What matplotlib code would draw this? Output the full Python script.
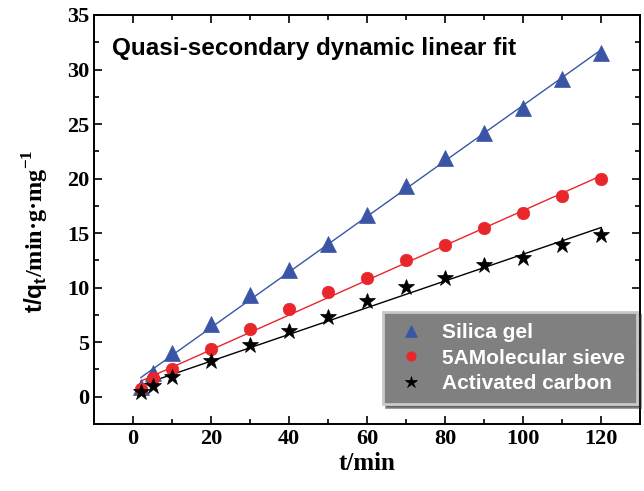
import numpy as np
import matplotlib
matplotlib.use("Agg")
import matplotlib.pyplot as plt
from matplotlib.ticker import MultipleLocator

plt.rcParams['mathtext.fontset'] = 'custom'
plt.rcParams['mathtext.sf'] = 'Liberation Sans:bold'
plt.rcParams['mathtext.rm'] = 'Liberation Serif:bold'
plt.rcParams['mathtext.bf'] = 'Liberation Serif:bold'

# Sampling times (min)
t = [2, 5, 10, 20, 30, 40, 50, 60, 70, 80, 90, 100, 110, 120]

# t/qt values for each adsorbent
silica_gel = [0.9, 2.2, 4.0, 6.7, 9.3, 11.6, 14.0, 16.7, 19.3, 21.9, 24.2, 26.5, 29.1, 31.5]
molecular_sieve = [0.7, 1.7, 2.5, 4.4, 6.2, 8.0, 9.6, 10.9, 12.5, 13.9, 15.5, 16.8, 18.4, 20.0]
activated_carbon = [0.4, 1.0, 1.8, 3.3, 4.7, 6.0, 7.3, 8.8, 10.1, 10.9, 12.1, 12.7, 13.9, 14.8]

labels = ['Silica gel', '5AMolecular sieve', 'Activated carbon']
colors = ['#3a55a6', '#e8262c', '#000000']
markers = ['^', 'o', '*']
msizes = [11, 9, 12]

fig = plt.figure(figsize=(6.44, 4.91), dpi=100)
ax = fig.add_axes([0.146, 0.1365, 0.848, 0.833])

tt = np.array(t, dtype=float)
for ys, lab, c, m, ms in zip([silica_gel, molecular_sieve, activated_carbon],
                             labels, colors, markers, msizes):
    ys = np.array(ys)
    k, b = np.polyfit(tt, ys, 1)
    ax.plot(tt, k * tt + b, color=c, lw=1.0, zorder=2)
    ax.plot(tt, ys, linestyle='none', marker=m, ms=ms, color=c,
            markeredgewidth=0.5, markeredgecolor=c, label=lab, zorder=3)

ax.set_xlim(-10, 130)
ax.set_ylim(-2.5, 35)
ax.xaxis.set_major_locator(MultipleLocator(20))
ax.xaxis.set_minor_locator(MultipleLocator(10))
ax.yaxis.set_major_locator(MultipleLocator(5))
ax.yaxis.set_minor_locator(MultipleLocator(2.5))
ax.tick_params(which='both', direction='in', top=True, right=True, width=1.2)
ax.tick_params(which='major', length=6)
ax.tick_params(which='minor', length=3.5)
ax.tick_params(labeltop=False, labelright=False)
for sp in ax.spines.values():
    sp.set_linewidth(1.4)

for lbl in ax.get_xticklabels() + ax.get_yticklabels():
    lbl.set_fontfamily('Liberation Serif')
    lbl.set_fontweight('bold')
    lbl.set_fontsize(16)

ax.set_xlabel('t/min', fontfamily='Liberation Serif', fontweight='bold', fontsize=18, labelpad=2)
ax.set_ylabel(r'$\mathsf{t/q_t}$/min·g·mg$^{\mathrm{-1}}$', fontfamily='Liberation Serif',
              fontweight='bold', fontsize=17.5)
ax.yaxis.set_label_coords(-0.078, 0.47)

ax.text(0.033, 0.918, 'Quasi-secondary dynamic linear fit', transform=ax.transAxes,
        fontfamily='Liberation Sans', fontweight='bold', fontsize=17.5, va='center')

leg = ax.legend(loc='upper left', bbox_to_anchor=(383 / 644, 1 - 312 / 491),
                bbox_transform=fig.transFigure, borderaxespad=0,
                prop={'family': 'Liberation Sans', 'weight': 'bold', 'size': 15},
                frameon=True, fancybox=False, shadow=True, markerscale=0.75,
                handletextpad=0.7, labelspacing=0.3, borderpad=0.55,
                handlelength=1.6)
frame = leg.get_frame()
frame.set_facecolor('#808080')
frame.set_edgecolor('#c8c8c8')
frame.set_linewidth(2)
frame.set_alpha(1)
for txt in leg.get_texts():
    txt.set_color('white')

fig.savefig('out.png', dpi=100)
